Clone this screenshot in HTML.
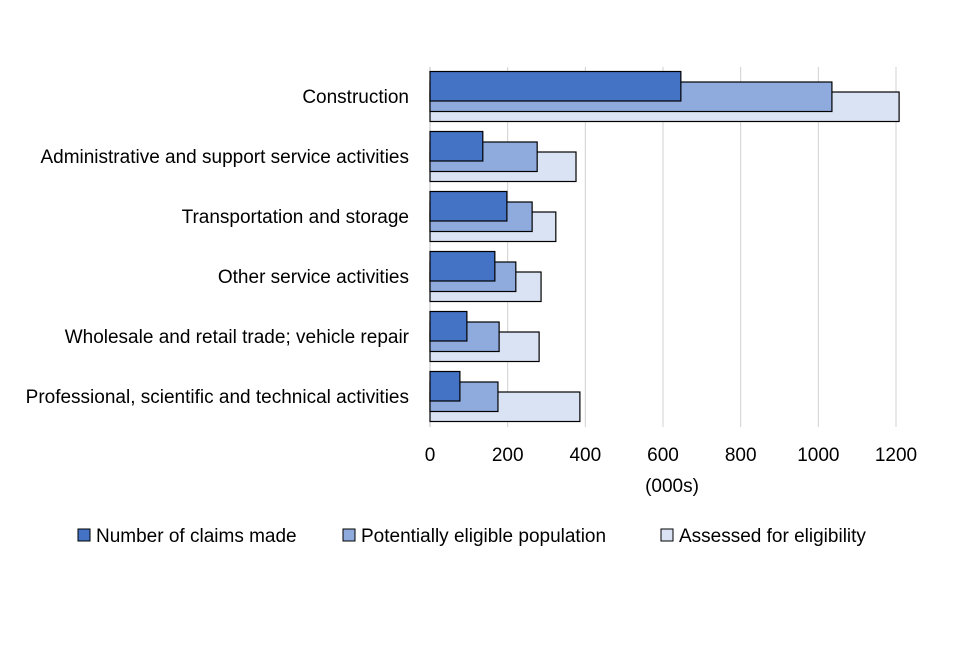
<!DOCTYPE html>
<html><head><meta charset="utf-8"><style>
body{margin:0;background:#fff;width:960px;height:640px;overflow:hidden}
svg text{font-family:"Liberation Sans",sans-serif;fill:#000}
</style></head><body>
<svg id="chart" width="960" height="640">
<g id="grid"></g>
<g id="bars"></g>
<g id="labels"></g>
<text x="672" y="492" text-anchor="middle" font-size="19">(000s)</text>
<g>
<g><rect x="78" y="529" width="12" height="12" fill="#4472C4" stroke="#000"/><text x="96" y="542" font-size="19">Number of claims made</text></g>
<g><rect x="343" y="529" width="12" height="12" fill="#8FAADC" stroke="#000"/><text x="361" y="542" font-size="19">Potentially eligible population</text></g>
<g><rect x="661" y="529" width="12" height="12" fill="#DAE3F3" stroke="#000"/><text x="679" y="542" font-size="19">Assessed for eligibility</text></g>
</g>
</svg>
<script>
const categories=["Construction","Administrative and support service activities","Transportation and storage","Other service activities","Wholesale and retail trade; vehicle repair","Professional, scientific and technical activities"];
const claims=[646,136,198,167,95,77];
const eligible=[1035,276,263,221,178,175];
const assessed=[1208,376,324,286,281,386];
const ticks=[0,200,400,600,800,1000,1200];
const NS="http://www.w3.org/2000/svg";
const x=v=>430+v*(466/1200);
const bandTop=i=>67+i*60;
function mk(tag,attrs,parent){const e=document.createElementNS(NS,tag);for(const k in attrs)e.setAttribute(k,attrs[k]);parent.appendChild(e);return e;}
const grid=document.getElementById('grid'),bars=document.getElementById('bars'),labels=document.getElementById('labels');
ticks.forEach(t=>{
 const l=mk('line',{x1:x(t),x2:x(t),y1:67,y2:427,stroke:t===0?'#bfbfbf':'#d0d0d0','stroke-width':1},grid);
 
 
 const tx=mk('text',{x:x(t),y:461,'text-anchor':'middle','font-size':19},labels);
 tx.textContent=t;
 
 
});
const series=[[assessed,'#DAE3F3',25,'assessed'],[eligible,'#8FAADC',15,'eligible'],[claims,'#4472C4',4.5,'claims']];
categories.forEach((c,i)=>{
 series.forEach(([arr,col,off,nm])=>{
  const r=mk('rect',{x:x(0),y:bandTop(i)+off,width:x(arr[i])-x(0),height:29.5,fill:col,stroke:'#000','stroke-width':1.2},bars);
  
  
 });
 const t=mk('text',{x:409,y:bandTop(i)+36,'text-anchor':'end','font-size':19},labels);
 t.textContent=c;
 
 
});
</script>
</body></html>
